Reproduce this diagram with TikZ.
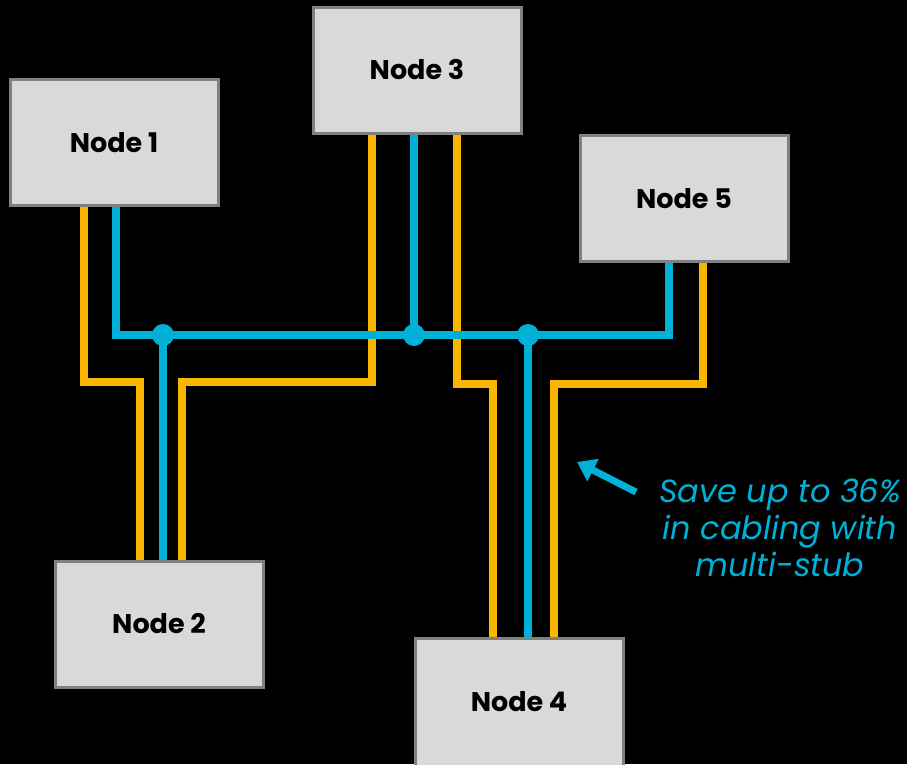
\documentclass[tikz,border=0pt]{standalone}
\usepackage{fontspec}
\setmainfont{Poppins}
\usetikzlibrary{arrows.meta}
\definecolor{wirecyan}{RGB}{0,176,214}
\definecolor{wireorange}{RGB}{248,182,0}
\definecolor{boxfill}{RGB}{217,217,217}
\definecolor{boxline}{RGB}{128,128,128}
\begin{document}
\begin{tikzpicture}[x=1pt,y=-1pt,line join=miter,
		box/.style={draw=boxline,fill=boxfill,line width=3pt,minimum width=208pt,minimum height=126pt,
			font=\bfseries\fontsize{27}{32}\selectfont},
		cyanwire/.style={draw=wirecyan,line width=8pt},
		orangewire/.style={draw=wireorange,line width=8pt},
		pointer/.style={draw=wirecyan,line width=7pt,-{Triangle[length=18pt,width=24pt]}},
		note/.style={text=wirecyan,align=center,font=\itshape\fontsize{32}{37}\selectfont}]
	\fill[black] (0,0) rectangle (907,764);
	\useasboundingbox (0,0) rectangle (907,764);
	% boxes
	\node[box] (n1) at (114,142.5) {Node 1};
	\node[box] (n3) at (417,70) {Node 3};
	\node[box] (n5) at (684,198.5) {Node 5};
	\node[box] (n2) at (159,624) {Node 2};
	\node[box,minimum height=128pt] (n4) at (519,702) {Node 4};
	% joints on the bus
	\coordinate (j1) at (163,335);
	\coordinate (j2) at (414,335);
	\coordinate (j3) at (528,335);
	% orange cables
	\draw[orangewire] (84,0 |- n1.south) -- (84,382) -| (140,0 |- n2.north);
	\draw[orangewire] (372,0 |- n3.south) -- (372,382) -| (182,0 |- n2.north);
	\draw[orangewire] (457,0 |- n3.south) -- (457,384) -| (493,0 |- n4.north);
	\draw[orangewire] (703,0 |- n5.south) -- (703,384) -| (554,0 |- n4.north);
	% cyan multi-stub
	\draw[cyanwire] (116,0 |- n1.south) |- (j1) -- (j3) -| (669,0 |- n5.south);
	\draw[cyanwire] (j1) -- (j1 |- n2.north);
	\draw[cyanwire] (414,0 |- n3.south) -- (j2);
	\draw[cyanwire] (j3) -- (j3 |- n4.north);
	\foreach \j in {j1,j2,j3}{\fill[wirecyan] (\j) circle (11pt);}
	% note
	\coordinate (tail) at (636,492);
	\coordinate (tip) at (577,462);
	\draw[pointer] (tail) -- (tip);
	\node[note] (saving) at (780,528) {Save up to 36\%\\in cabling with\\multi-stub};
\end{tikzpicture}
\end{document}
